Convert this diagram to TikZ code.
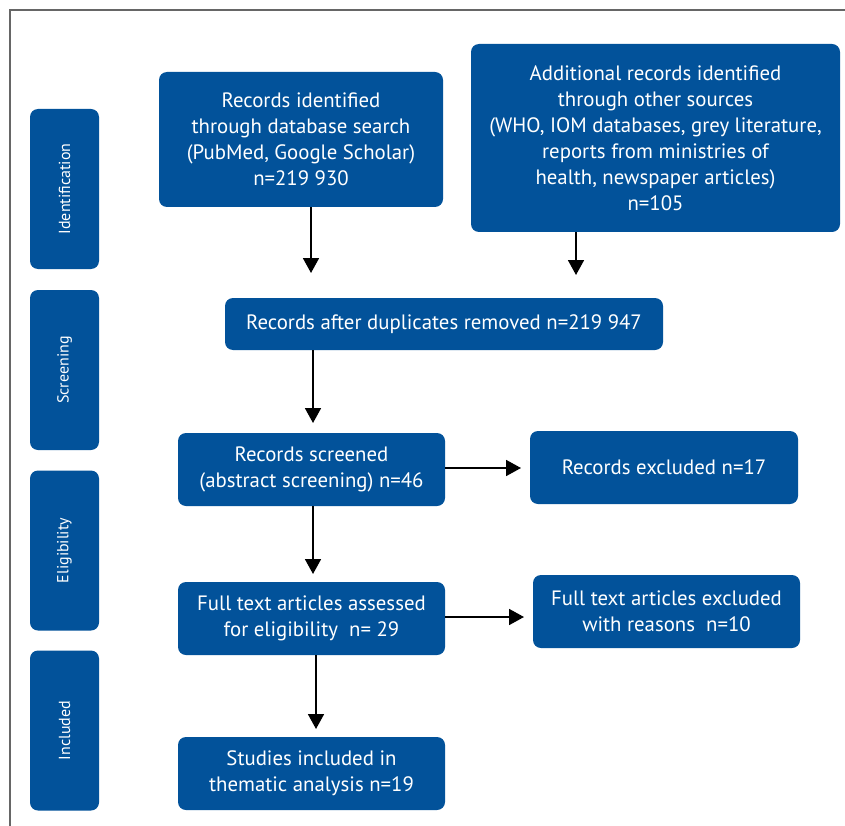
\documentclass[tikz,border=0pt]{standalone}
\usepackage{fontspec}
\setmainfont{PT Sans}
\usetikzlibrary{arrows.meta}
\definecolor{boxblue}{HTML}{02529A}
\tikzset{
  bx/.style={fill=boxblue, text=white, rounded corners=8pt, inner sep=0pt, align=center,
    font=\fontsize{20.8}{26}\selectfont},
  side/.style={fill=boxblue, text=white, rounded corners=8pt, inner sep=0pt,
    minimum width=69pt, minimum height=160pt, font=\fontsize{16}{18}\selectfont},
  arr/.style={line width=1.8pt, -{Triangle[length=15pt,width=16pt]}},
  frame/.style={draw=gray!80!black, line width=1.5pt}
}
\begin{document}
\begin{tikzpicture}[x=1pt,y=-1pt]
\useasboundingbox (0,0) rectangle (845,826);
\draw[frame] (10,826) -- (10,10) -- (845,10);
% side boxes
\node[side] (s1) at (64.5,189) {\rotatebox{90}{Identification}};
\node[side] (s2) at (64.5,370) {\rotatebox{90}{Screening}};
\node[side] (s3) at (64.5,550.5) {\rotatebox{90}{Eligibility}};
\node[side] (s4) at (64.5,730.5) {\rotatebox{90}{Included}};
% main boxes
\node[bx, minimum width=284pt, minimum height=135pt] (b1) at (301,139.5)
  {Records identified\\through database search\\(PubMed, Google Scholar)\\n=219 930};
\node[bx, minimum width=369pt, minimum height=188pt] (b2) at (655.5,138)
  {Additional records identified\\through other sources\\(WHO, IOM databases, grey literature,\\reports from ministries of\\health, newspaper articles)\\n=105};
\node[bx, minimum width=438pt, minimum height=52pt] (b3) at (444,324)
  {Records after duplicates removed n=219 947};
\node[bx, minimum width=267pt, minimum height=73pt] (b4) at (311.5,469.5)
  {Records screened\\(abstract screening) n=46};
\node[bx, minimum width=268pt, minimum height=73pt] (b5) at (664,467.5)
  {Records excluded n=17};
\node[bx, minimum width=267pt, minimum height=73pt] (b6) at (311.5,618.5)
  {Full text articles assessed\\for eligibility\ \ n= 29};
\node[bx, minimum width=267pt, minimum height=73pt] (b7) at (666.5,611.5)
  {Full text articles excluded\\with reasons\ \ n=10};
\node[bx, minimum width=267pt, minimum height=73pt] (b8) at (311.5,773.5)
  {Studies included in\\thematic analysis n=19};
% arrow ends
\coordinate (e1) at (311,273);
\coordinate (e2) at (576,275);
\coordinate (e3) at (313,423);
\coordinate (e4) at (521,468);
\coordinate (e5) at (313,574);
\coordinate (e6) at (524,617);
\coordinate (e7) at (316,729);
\draw[arr] (b1.south -| e1) -- (e1);
\draw[arr] (b2.south -| e2) -- (e2);
\draw[arr] (b3.south -| e3) -- (e3);
\draw[arr] (b4.east |- e4) -- (e4);
\draw[arr] (b4.south -| e5) -- (e5);
\draw[arr] (b6.east |- e6) -- (e6);
\draw[arr] (b6.south -| e7) -- (e7);
\end{tikzpicture}
\end{document}
